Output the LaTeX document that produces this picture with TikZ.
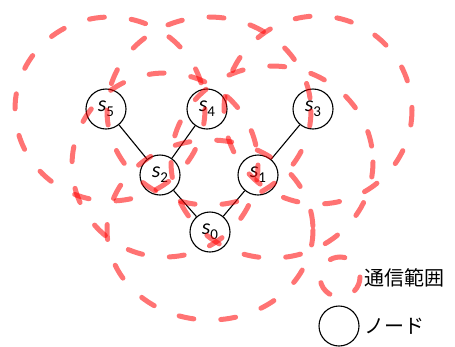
\documentclass[tikz,border=0pt]{standalone}
\usepackage{fontspec}
\setmainfont{Carlito}
\newfontfamily\jpfont{Noto Sans CJK JP}
\newcommand{\lbl}[1]{\textit{s}\raisebox{-0.5ex}{\fontsize{15}{15}\selectfont #1}}
\begin{document}
\begin{tikzpicture}[x=1pt,y=-1pt,
  nd/.style={circle,draw=black,line width=1.1pt,minimum size=40pt,inner sep=0pt,font=\fontsize{22}{22}\selectfont},
  rng/.style={draw=red,draw opacity=0.55,line width=5pt,line cap=round,dash pattern=on 15pt off 27pt},
  lnk/.style={line width=1.1pt},
  jp/.style={anchor=west,font=\jpfont\fontsize{20}{21}\selectfont}]
\useasboundingbox (0,0) rectangle (455,346);
\node[nd] (s5) at (106,109) {\lbl{5}};
\node[nd] (s4) at (207,109) {\lbl{4}};
\node[nd] (s3) at (313,109) {\lbl{3}};
\node[nd] (s2) at (160,175) {\lbl{2}};
\node[nd] (s1) at (258,175) {\lbl{1}};
\node[nd] (s0) at (210,232) {\lbl{0}};
\draw[lnk] (s5) -- (s2);
\draw[lnk] (s4) -- (s2);
\draw[lnk] (s2) -- (s0);
\draw[lnk] (s3) -- (s1);
\draw[lnk] (s1) -- (s0);
% communication ranges
\draw[rng] (110,109) ellipse[x radius=95, y radius=92];
\draw[rng] (209,111) ellipse[x radius=102, y radius=94];
\draw[rng] (318,110) ellipse[x radius=94, y radius=94];
\draw[rng] (165,165) ellipse[x radius=93, y radius=92];
\draw[rng] (272,162) ellipse[x radius=101, y radius=96];
\draw[rng] (210,230) ellipse[x radius=103, y radius=90];
% legend
\draw[rng] (340,277) circle[radius=20];
\node[jp] (lrt) at (361,278) {通信範囲};
\node[nd] (lnd) at (339,326) {};
\node[jp] (lnt) at (361,326) {ノード};
\end{tikzpicture}
\end{document}
